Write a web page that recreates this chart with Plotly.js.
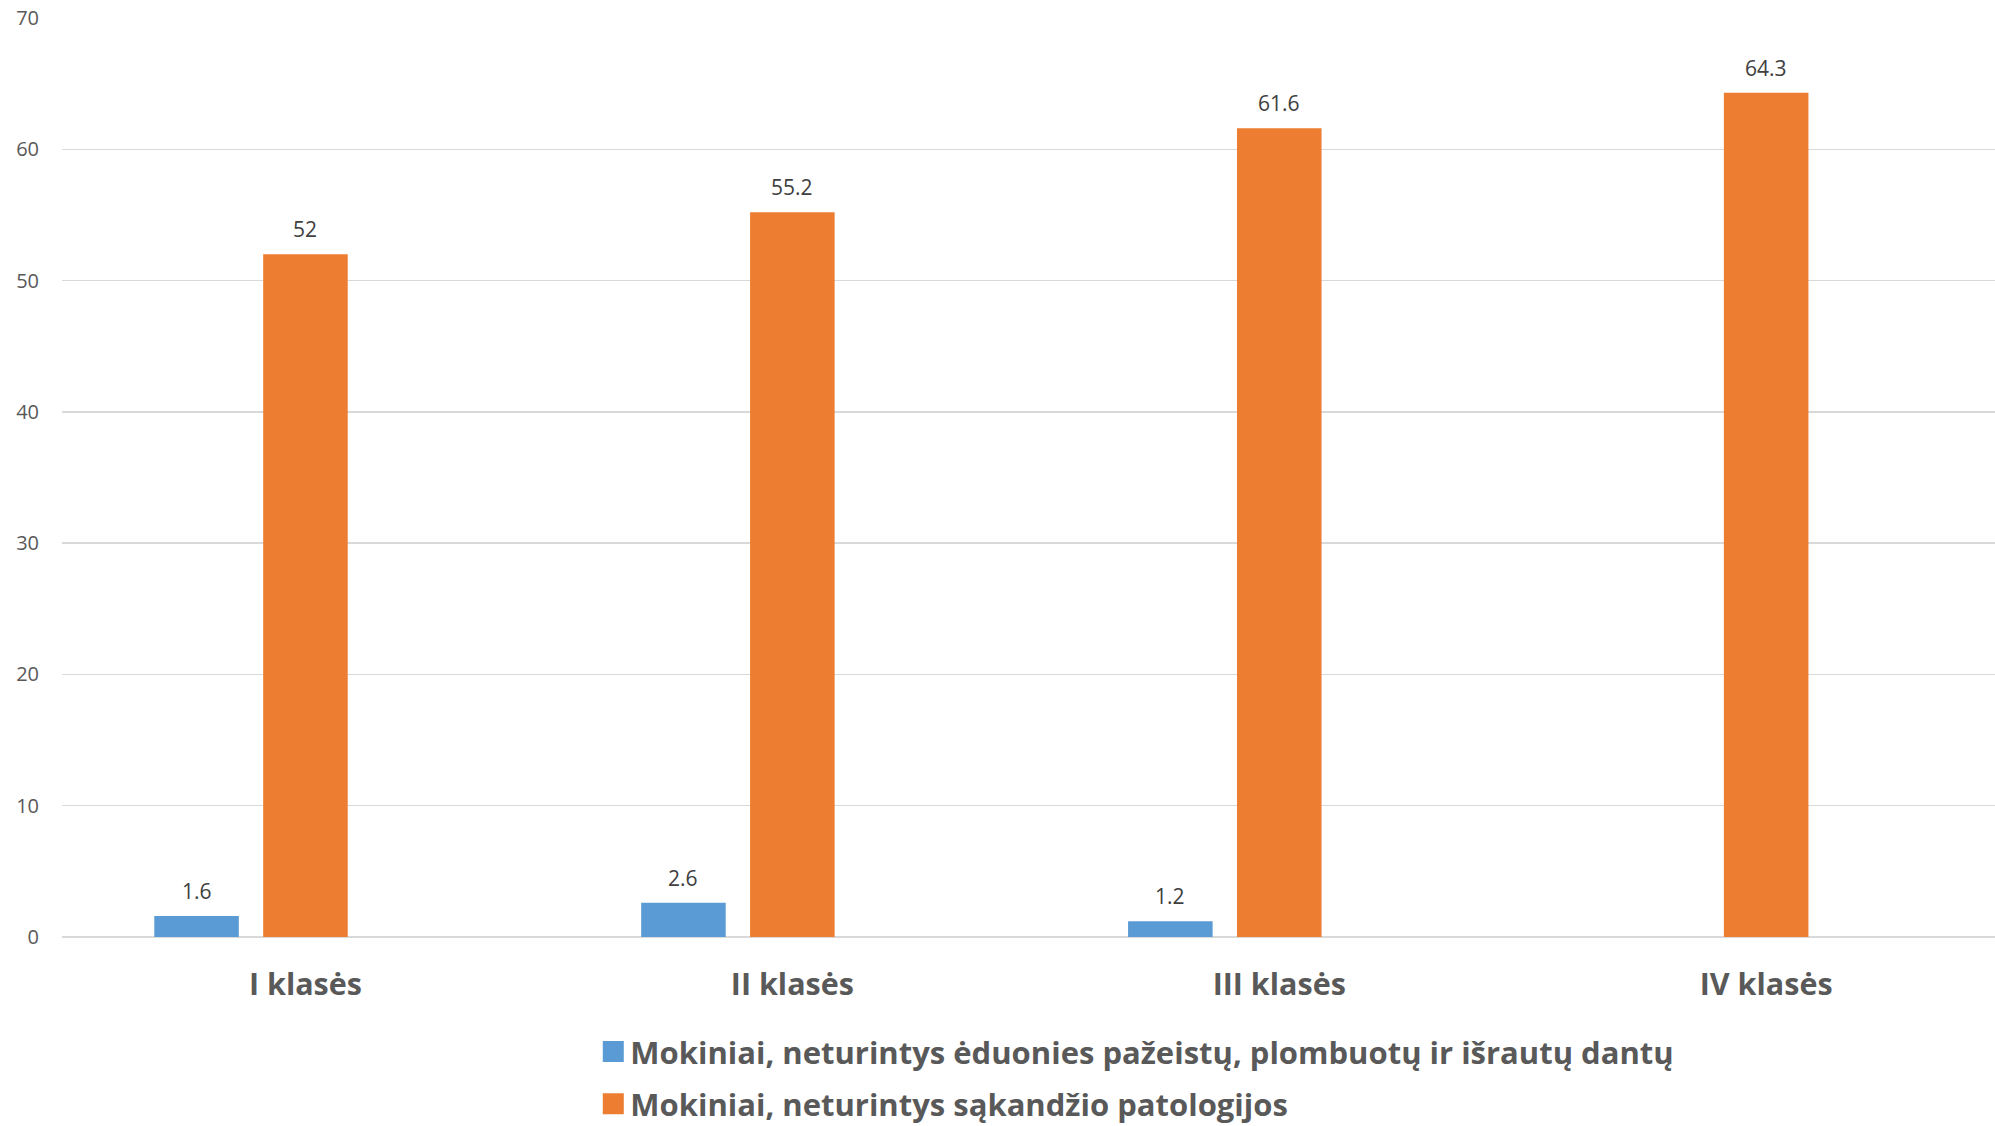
<!DOCTYPE html>
<html><head><meta charset="utf-8">
<script src="https://cdn.plot.ly/plotly-3.0.1.min.js"></script>
<style>html,body{margin:0;padding:0;background:#fff}</style>
</head><body>
<div id="chart" style="width:1995px;height:1126px"></div>
<script>
const categories = ["I klasės", "II klasės", "III klasės", "IV klasės"];
const seriesNames = [
  "Mokiniai, neturintys ėduonies pažeistų, plombuotų ir išrautų dantų",
  "Mokiniai, neturintys sąkandžio patologijos"
];
const cariesFree = [1.6, 2.6, 1.2, null];
const noMalocclusion = [52, 55.2, 61.6, 64.3];
const yTicks = [0, 10, 20, 30, 40, 50, 60, 70];

const FONT = "'Open Sans', Lato, sans-serif";
const BARGAP = 0.329, NSLOTS = 3;
const slot = (1 - BARGAP) / NSLOTS;

const traces = [
  {type: 'bar', name: seriesNames[0], x: categories, y: cariesFree, legendgroup: 'a',
   marker: {color: '#5B9BD5'}, hoverinfo: 'none'},
  {type: 'bar', name: seriesNames[1], x: categories, y: noMalocclusion, legendgroup: 'b',
   marker: {color: '#ED7D31'}, hoverinfo: 'none'},
  {type: 'bar', name: 'ghost', x: categories, y: categories.map(() => null),
   showlegend: false, hoverinfo: 'none'}
];

const annotations = [];
[cariesFree, noMalocclusion].forEach((vals, si) => {
  vals.forEach((v, i) => {
    if (v === null) return;
    annotations.push({
      x: i + (si - 1) * slot, y: v, xref: 'x', yref: 'y',
      text: String(v), showarrow: false, yanchor: 'middle', yshift: 25,
      font: {family: FONT, size: 21, color: '#404040'}
    });
  });
});

const layout = {
  width: 1995, height: 1126,
  margin: {l: 62, r: 0, t: 18, b: 189, autoexpand: false},
  paper_bgcolor: '#fff', plot_bgcolor: '#fff',
  barmode: 'group', bargap: BARGAP, bargroupgap: 0.2236,
  showlegend: true,
  xaxis: {
    type: 'category', range: [-0.5, 3.47],
    showgrid: false, zeroline: false, showline: false, ticks: '',
    tickfont: {family: FONT, size: 30.5, color: '#595959', weight: 'bold'},
    ticklabelstandoff: 26
  },
  yaxis: {
    range: [0, 70], tickvals: yTicks, ticktext: yTicks.map(String),
    showgrid: true, gridcolor: '#D9D9D9', gridwidth: 1.5,
    zeroline: true, zerolinecolor: '#D9D9D9', zerolinewidth: 1.5,
    showline: false, ticks: '',
    tickfont: {family: FONT, size: 20, color: '#595959'},
    ticklabelstandoff: 22
  },
  legend: {
    orientation: 'v', x: 0.2733, xanchor: 'left', y: -0.0955, yanchor: 'top',
    traceorder: 'grouped', tracegroupgap: 9,
    font: {family: FONT, size: 31, color: '#595959', weight: 'bold'},
    bgcolor: 'rgba(0,0,0,0)', itemclick: false
  },
  annotations: annotations
};

Plotly.newPlot('chart', traces, layout, {staticPlot: true, displayModeBar: false}).then(gd => {
  gd.querySelectorAll('.legendpoints path').forEach(p => {
    p.setAttribute('d', 'M13.5,10.5H-7.5V-10.5H13.5Z');
  });
});
</script>
</body></html>
